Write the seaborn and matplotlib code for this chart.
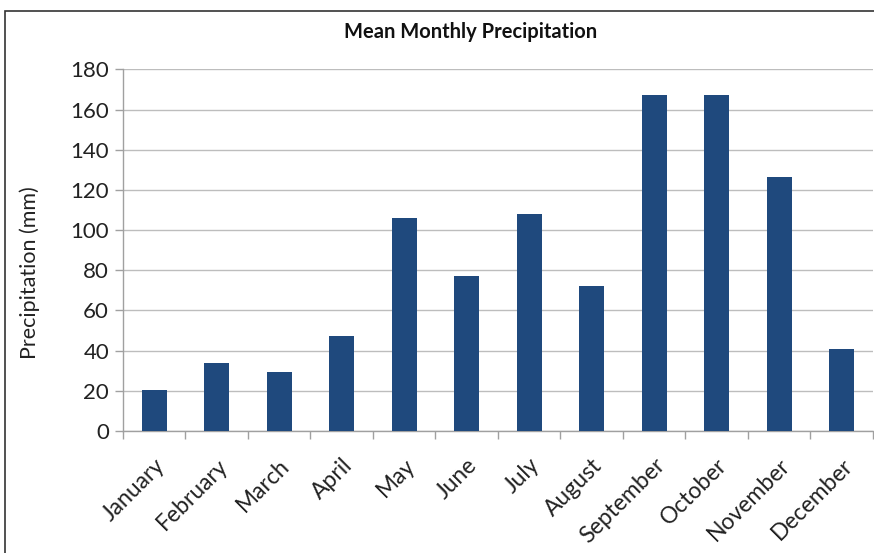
import matplotlib
matplotlib.use("Agg")
import matplotlib.pyplot as plt
import seaborn as sns
import pandas as pd
from matplotlib.patches import Rectangle

months = ["January", "February", "March", "April", "May", "June", "July",
          "August", "September", "October", "November", "December"]
precip_mm = [20.2, 33.7, 29.5, 47.5, 105.8, 76.9, 108.0, 72.4, 167.3, 167.3, 126.3, 41.0]
y_ticks = [0, 20, 40, 60, 80, 100, 120, 140, 160, 180]

sns.set_theme(style="white")
plt.rcParams["font.family"] = ["Lato", "DejaVu Sans"]

df = pd.DataFrame({"month": months, "precip": precip_mm})

fig = plt.figure(figsize=(8.74, 5.53), dpi=100)
ax = fig.add_axes([0.1407, 0.2206, 0.858, 0.654])

sns.barplot(data=df, x="month", y="precip", color="#1f497d", width=0.4,
            saturation=1, ax=ax, zorder=3)
for p in ax.patches:
    p.set_edgecolor("none")

ax.set_xlim(-0.5, len(months) - 0.5)
ax.set_ylim(0, 180)
ax.set_yticks(y_ticks)
ax.set_yticklabels([str(v) for v in y_ticks], fontsize=16, color="#222222")
ax.yaxis.grid(True, color="#bdbdbd", linewidth=1.0, zorder=0)
ax.set_axisbelow(True)

# category boundary ticks on the x axis
ax.set_xticks([i - 0.5 for i in range(len(months) + 1)], minor=True)
ax.tick_params(axis="x", which="minor", bottom=True, length=6, width=1, color="#a0a0a0")
ax.tick_params(axis="x", which="major", bottom=False, length=0, pad=17)
ax.tick_params(axis="y", left=True, length=6, width=1, color="#a0a0a0", pad=4)
ax.set_xticks(range(len(months)))
ax.set_xticklabels(months, rotation=45, ha="right", rotation_mode="anchor",
                   fontsize=16.5, color="#222222")

for side in ["top", "right"]:
    ax.spines[side].set_visible(False)
for side in ["left", "bottom"]:
    ax.spines[side].set_color("#a0a0a0")
    ax.spines[side].set_linewidth(1.0)

ax.set_xlabel("")
ax.set_ylabel("Precipitation (mm)", fontsize=15.5, color="#222222")
ax.yaxis.set_label_coords(-0.111, 0.438)

fig.text(0.538, 0.942, "Mean Monthly Precipitation", ha="center", va="center",
         fontsize=14.5, fontweight="bold", color="#111111")

# chart frame
fig.patches.append(Rectangle((5 / 874, -0.05), 1.0, 1 - 11 / 553 + 0.05,
                             transform=fig.transFigure, fill=False,
                             edgecolor="#333333", linewidth=1.2))

fig.savefig("out.png", dpi=100, facecolor="white")
